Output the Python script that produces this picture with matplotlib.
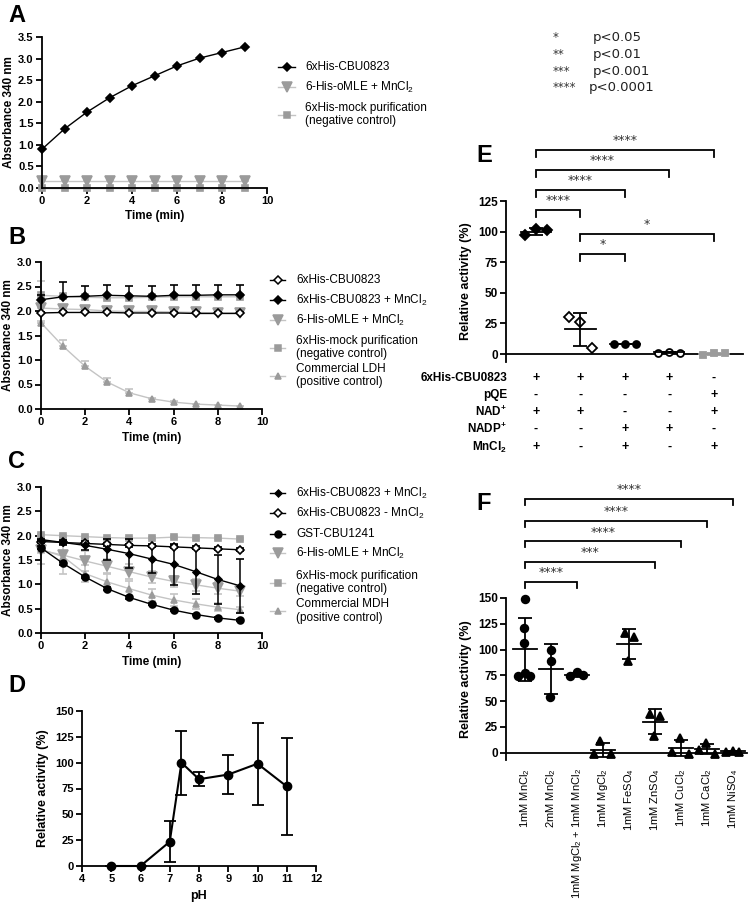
import matplotlib
matplotlib.use('Agg')
import matplotlib.pyplot as plt
import numpy as np
from matplotlib.lines import Line2D
import matplotlib.transforms as mtransforms

plt.rcParams['font.family'] = ['Liberation Sans', 'DejaVu Sans']
plt.rcParams['mathtext.fontset'] = 'custom'
plt.rcParams['mathtext.rm'] = 'Liberation Sans'
plt.rcParams['mathtext.it'] = 'Liberation Sans:italic'
plt.rcParams['mathtext.bf'] = 'Liberation Sans:bold'

# ---------------- data ----------------
time = [0, 1, 2, 3, 4, 5, 6, 7, 8, 9]

A_cbu = [0.90, 1.37, 1.76, 2.09, 2.37, 2.60, 2.83, 3.01, 3.14, 3.27]
A_omle = [0.17, 0.17, 0.17, 0.17, 0.17, 0.17, 0.17, 0.17, 0.17, 0.17]
A_mock = [0.01, 0.01, 0.01, 0.01, 0.01, 0.01, 0.01, 0.01, 0.01, 0.01]

B_cbu = [1.96, 1.97, 1.97, 1.97, 1.96, 1.96, 1.96, 1.95, 1.95, 1.95]
B_cbu_err = [0.02, 0.02, 0.02, 0.02, 0.02, 0.02, 0.02, 0.02, 0.02, 0.02]
B_mn = [2.23, 2.29, 2.30, 2.32, 2.31, 2.30, 2.32, 2.32, 2.33, 2.33]
B_mn_err = [0.10, 0.30, 0.22, 0.22, 0.21, 0.21, 0.21, 0.21, 0.21, 0.21]
B_omle = [2.06, 2.04, 2.03, 2.00, 1.99, 1.99, 1.98, 1.97, 1.96, 1.96]
B_omle_err = [0.03, 0.03, 0.03, 0.03, 0.03, 0.03, 0.03, 0.03, 0.03, 0.03]
B_mock = [2.32, 2.30, 2.28, 2.27, 2.27, 2.28, 2.29, 2.29, 2.29, 2.29]
B_mock_err = [0.30, 0.05, 0.05, 0.05, 0.05, 0.05, 0.05, 0.05, 0.05, 0.05]
B_ldh = [1.76, 1.28, 0.87, 0.55, 0.33, 0.21, 0.14, 0.10, 0.08, 0.06]
B_ldh_err = [0.03, 0.12, 0.11, 0.09, 0.07, 0.02, 0.02, 0.01, 0.01, 0.01]

C_mn = [1.92, 1.86, 1.80, 1.72, 1.63, 1.52, 1.41, 1.26, 1.10, 0.97]
C_mn_err = [0.02, 0.05, 0.10, 0.22, 0.30, 0.28, 0.42, 0.46, 0.50, 0.55]
C_nomn = [1.88, 1.86, 1.84, 1.82, 1.80, 1.79, 1.77, 1.75, 1.73, 1.71]
C_nomn_err = [0.03, 0.03, 0.03, 0.03, 0.03, 0.03, 0.03, 0.03, 0.03, 0.03]
C_gst = [1.75, 1.43, 1.15, 0.91, 0.73, 0.59, 0.47, 0.38, 0.31, 0.26]
C_gst_err = [0.03, 0.03, 0.03, 0.03, 0.03, 0.02, 0.02, 0.02, 0.02, 0.02]
C_omle = [1.70, 1.60, 1.48, 1.37, 1.26, 1.15, 1.06, 0.99, 0.92, 0.86]
C_omle_err = [0.05, 0.38, 0.20, 0.15, 0.15, 0.12, 0.12, 0.12, 0.12, 0.10]
C_mock = [2.02, 2.00, 1.98, 1.96, 1.95, 1.95, 1.97, 1.96, 1.95, 1.93]
C_mock_err = [0.02, 0.02, 0.02, 0.02, 0.02, 0.02, 0.02, 0.02, 0.02, 0.02]
C_mdh = [1.72, 1.57, 1.22, 1.05, 0.91, 0.78, 0.68, 0.60, 0.53, 0.48]
C_mdh_err = [0.30, 0.10, 0.18, 0.18, 0.16, 0.13, 0.12, 0.10, 0.08, 0.06]

D_ph = [5, 6, 7, 7.4, 8, 9, 10, 11]
D_act = [0, 0, 23.5, 100, 84, 88.5, 99, 77]
D_err = [0, 0, 20, 31, 6.5, 19, 39.5, 47]

E_rows = ['6xHis-CBU0823', 'pQE', r'NAD$^{\mathbf{+}}$', r'NADP$^{\mathbf{+}}$', r'MnCl$_\mathbf{2}$']
E_signs = [['+', '+', '+', '+', '-'],
           ['-', '-', '-', '-', '+'],
           ['+', '+', '-', '-', '+'],
           ['-', '-', '+', '+', '-'],
           ['+', '-', '+', '-', '+']]
E_vals = [[97, 102, 101], [30, 26, 5], [8.5, 8.5, 8.5], [1, 2, 1], [-1, 1, 0.5]]
E_cmp = [(0, 4, '****'), (0, 3, '****'), (0, 2, '****'), (0, 1, '****'), (1, 4, '*'), (1, 2, '*')]

F_cats = [r'1mM MnCl$_2$', r'2mM MnCl$_2$', r'1mM MgCl$_2$ + 1mM MnCl$_2$', r'1mM MgCl$_2$',
          r'1mM FeSO$_4$', r'1mM ZnSO$_4$', r'1mM CuCl$_2$', r'1mM CaCl$_2$', r'1mM NiSO$_4$']
F_vals = [[149, 121, 106, 74, 77, 74], [100, 89, 54], [74, 78, 75], [11, -1, -1],
          [116, 112, 89], [38, 36, 16], [14, 1, -1], [9, 3, -1], [1, 2, 1]]
F_cmp = [(0, 8, '****'), (0, 7, '****'), (0, 6, '****'), (0, 5, '***'), (0, 2, '****')]

# ---------------- style ----------------
W, H = 750, 908
BLACK = '#000000'
GRAYM = '#9b9b9b'
GRAYL = '#c4c4c4'

fig = plt.figure(figsize=(7.5, 9.08), dpi=100)


def ax_px(left, top, right, bottom):
    return fig.add_axes([left / W, 1 - bottom / H, (right - left) / W, (bottom - top) / H])


def prism(ax, fs=8, lw=1.3, ticklen=4):
    for s in ['top', 'right']:
        ax.spines[s].set_visible(False)
    for s in ['left', 'bottom']:
        ax.spines[s].set_linewidth(lw)
    ax.tick_params(width=lw, length=ticklen, labelsize=fs, pad=2)
    ax.patch.set_alpha(0)


def bold_ticks(ax):
    for t in ax.get_xticklabels() + ax.get_yticklabels():
        t.set_fontweight('bold')


def series(ax, y, err, marker, mfc, mec, ms, lc, ecol, upper=False, z=2):
    e = np.asarray(err)
    yerr = [np.zeros_like(e), e] if upper else e
    ax.errorbar(time, y, yerr=yerr, fmt='-', marker=marker, color=lc, mfc=mfc, mec=mec,
                ms=ms, mew=1.2, ecolor=ecol, elinewidth=1.1, capsize=3, capthick=1.1,
                lw=1, clip_on=False, zorder=z)


def time_axes(ax, ymax, ylab_pad=2):
    prism(ax)
    ax.set_xlim(0, 10)
    ax.set_ylim(0, ymax)
    ax.set_xticks(np.arange(0, 11, 2))
    yt = np.arange(0, ymax + 0.01, 0.5)
    ax.set_yticks(yt, [f'{v:.1f}' for v in yt])
    bold_ticks(ax)
    ax.set_xlabel('Time (min)', fontsize=8.5, fontweight='bold', labelpad=3)
    ax.set_ylabel('Absorbance 340 nm', fontsize=8.5, fontweight='bold', labelpad=ylab_pad)


def legend_entry(y, marker, mfc, mec, ms, lc, text, x0=278, x1=295, tx=305):
    l = Line2D([x0 / W, (x0 + x1) / 2 / W, x1 / W], [1 - y / H] * 3, transform=fig.transFigure,
               color=lc, lw=1, marker=marker, markevery=[1], mfc=mfc, mec=mec, ms=ms, mew=1.1)
    fig.add_artist(l)
    fig.text(tx / W, 1 - y / H, text, fontsize=8.5, va='center', ha='left', linespacing=1.15)


def letter(x, y, s):
    fig.text(x / W, 1 - y / H, s, fontsize=17, fontweight='bold', va='center', ha='left')


# ---------------- Panel A ----------------
axA = ax_px(42, 37, 267, 188)
series(axA, A_mock, [0] * 10, 's', GRAYM, GRAYM, 5, GRAYM, GRAYM)
series(axA, A_omle, [0] * 10, 'v', GRAYM, GRAYM, 7, GRAYL, GRAYL)
series(axA, A_cbu, [0] * 10, 'D', BLACK, BLACK, 4, BLACK, BLACK, z=3)
time_axes(axA, 3.5)
letter(8, 15, 'A')
legend_entry(67, 'D', BLACK, BLACK, 4, BLACK, '6xHis-CBU0823')
legend_entry(87, 'v', GRAYM, GRAYM, 7, GRAYL, r'6-His-oMLE + MnCl$_2$')
legend_entry(114.5, 's', GRAYM, GRAYM, 5, GRAYL, '6xHis-mock purification\n(negative control)')

# ---------------- Panel B ----------------
axB = ax_px(41, 262, 262, 409)
series(axB, B_ldh, B_ldh_err, '^', GRAYM, GRAYM, 5, GRAYL, GRAYL, upper=True)
series(axB, B_mock, B_mock_err, 's', GRAYM, GRAYM, 5, GRAYL, GRAYL, upper=True)
series(axB, B_omle, B_omle_err, 'v', GRAYM, GRAYM, 7, GRAYL, GRAYL, upper=True)
series(axB, B_mn, B_mn_err, 'D', BLACK, BLACK, 4, BLACK, BLACK, upper=True, z=3)
series(axB, B_cbu, B_cbu_err, 'D', 'white', BLACK, 4.5, BLACK, BLACK, upper=True, z=3)
time_axes(axB, 3.0)
letter(8, 237, 'B')
bx = dict(x0=270, x1=285, tx=296)
legend_entry(280, 'D', 'white', BLACK, 4.5, BLACK, '6xHis-CBU0823', **bx)
legend_entry(300, 'D', BLACK, BLACK, 4, BLACK, r'6xHis-CBU0823 + MnCl$_2$', **bx)
legend_entry(320, 'v', GRAYM, GRAYM, 7, GRAYL, r'6-His-oMLE + MnCl$_2$', **bx)
legend_entry(347.5, 's', GRAYM, GRAYM, 5, GRAYL, '6xHis-mock purification\n(negative control)', **bx)
legend_entry(375.5, '^', GRAYM, GRAYM, 5, GRAYL, 'Commercial LDH\n(positive control)', **bx)

# ---------------- Panel C ----------------
axC = ax_px(41, 487, 262, 633)
series(axC, C_mdh, C_mdh_err, '^', GRAYM, GRAYM, 5, GRAYL, GRAYL)
series(axC, C_mock, C_mock_err, 's', GRAYM, GRAYM, 5, GRAYL, GRAYL)
series(axC, C_omle, C_omle_err, 'v', GRAYM, GRAYM, 7, GRAYL, GRAYL)
series(axC, C_gst, C_gst_err, 'o', BLACK, BLACK, 5, BLACK, BLACK, z=3)
series(axC, C_nomn, C_nomn_err, 'D', 'white', BLACK, 4.5, BLACK, BLACK, z=3)
series(axC, C_mn, C_mn_err, 'D', BLACK, BLACK, 3.5, BLACK, BLACK, z=3)
time_axes(axC, 3.0)
letter(8, 462, 'C')
legend_entry(493, 'D', BLACK, BLACK, 3.5, BLACK, r'6xHis-CBU0823 + MnCl$_2$', **bx)
legend_entry(513, 'D', 'white', BLACK, 4.5, BLACK, r'6xHis-CBU0823 - MnCl$_2$', **bx)
legend_entry(534, 'o', BLACK, BLACK, 5, BLACK, 'GST-CBU1241', **bx)
legend_entry(553, 'v', GRAYM, GRAYM, 7, GRAYL, r'6-His-oMLE + MnCl$_2$', **bx)
legend_entry(582.5, 's', GRAYM, GRAYM, 5, GRAYL, '6xHis-mock purification\n(negative control)', **bx)
legend_entry(611, '^', GRAYM, GRAYM, 5, GRAYL, 'Commercial MDH\n(positive control)', **bx)

# ---------------- Panel D ----------------
axD = ax_px(82, 711, 316, 866)
axD.errorbar(D_ph, D_act, yerr=D_err, fmt='-o', color=BLACK, ms=6, lw=1.5, elinewidth=1.3,
             capsize=4, capthick=1.3, clip_on=False, zorder=3)
prism(axD)
axD.set_xlim(4, 12)
axD.set_ylim(0, 150)
axD.set_xticks(np.arange(4, 13, 1))
axD.set_yticks(np.arange(0, 151, 25))
bold_ticks(axD)
axD.set_xlabel('pH', fontsize=9, fontweight='bold', labelpad=4)
axD.set_ylabel('Relative activity (%)', fontsize=9, fontweight='bold', labelpad=4)
letter(8, 685, 'D')

# ---------------- p-value key ----------------
pk = [('*', 'p<0.05'), ('**', 'p<0.01'), ('***', 'p<0.001'), ('****', 'p<0.0001')]
for i, (s, p) in enumerate(pk):
    yy = 38 + i * 16.5
    fig.text(553 / W, 1 - yy / H, s, fontsize=8.5, family='DejaVu Sans', va='center', color='#333333')
    fig.text(593 / W - (0.005 if len(s) == 4 else 0), 1 - yy / H, p, fontsize=9.5, family='DejaVu Sans',
             va='center', color='#222222')


def brackets(ax, cmp, levels, drop, fs=9, off=2.0):
    for (a, b, lab), lv in zip(cmp, levels):
        ax.plot([a, a, b, b], [lv - drop, lv, lv, lv - drop], color=BLACK, lw=1.3, clip_on=False,
                solid_joinstyle='miter')
        ax.text((a + b) / 2, lv + off, lab, ha='center', va='bottom', fontsize=fs,
                family='DejaVu Sans', color='#333333')


def dotplot(ax, vals, markers, colors, offsets, halfw, cap, ms, mfcs):
    for i, v in enumerate(vals):
        v = np.asarray(v, dtype=float)
        m = v.mean()
        sd = v.std(ddof=1)
        xs = [i + o for o in offsets[i]]
        ax.plot(xs, v, linestyle='none', marker=markers[i], ms=ms, mfc=mfcs[i], mec=colors[i],
                mew=1.3, clip_on=False, zorder=3)
        ax.plot([i - halfw, i + halfw], [m, m], color=colors[i], lw=1.3, zorder=4, clip_on=False)
        ax.errorbar(i, m, yerr=sd, fmt='none', ecolor=colors[i], elinewidth=1.3, capsize=cap,
                    capthick=1.3, zorder=4, clip_on=False)


# ---------------- Panel E ----------------
axE = ax_px(506, 201, 743, 362)
prism(axE, fs=8.5)
axE.set_xlim(-0.675, 4.66)
axE.set_ylim(-6.5, 125)
axE.spines['bottom'].set_position(('data', 0))
axE.set_xticks([])
axE.set_yticks(np.arange(0, 126, 25))
bold_ticks(axE)
axE.set_ylabel('Relative activity (%)', fontsize=9, fontweight='bold', labelpad=4)
E_off = [[-0.25, 0, 0.25]] * 5
dotplot(axE, E_vals, ['D', 'D', 'o', 'o', 's'], [BLACK, BLACK, BLACK, BLACK, GRAYM],
        E_off, 0.34, 5, 5, [BLACK, 'white', BLACK, 'white', GRAYM])
brackets(axE, E_cmp, [166.7, 150.3, 134, 117.6, 98, 81.7], 5.7, off=2.5)
trE = mtransforms.blended_transform_factory(axE.transData, fig.transFigure)
row_y = [378, 395, 412, 429, 447]
for r, (lab, signs) in enumerate(zip(E_rows, E_signs)):
    yy = 1 - row_y[r] / H
    fig.text(507 / W, yy, lab, ha='right', va='center', fontsize=8.5, fontweight='bold')
    for c, s in enumerate(signs):
        axE.text(c, yy, s, transform=trE, ha='center', va='center', fontsize=9, fontweight='bold')
letter(476, 155, 'E')

# ---------------- Panel F ----------------
axF = ax_px(506, 598, 747, 760)
prism(axF, fs=8.5)
axF.set_xlim(-0.73, 8.54)
axF.set_ylim(-7, 150)
axF.spines['bottom'].set_position(('data', 0))
axF.set_yticks(np.arange(0, 151, 25))
axF.set_xticks(np.arange(len(F_cats)), F_cats, rotation=90, fontsize=8)
axF.tick_params(axis='x', length=0, pad=11)
for t in axF.get_yticklabels():
    t.set_fontweight('bold')
axF.set_ylabel('Relative activity (%)', fontsize=9, fontweight='bold', labelpad=4)
F_off = [[0, -0.05, -0.03, -0.28, 0, 0.18], [0, 0, -0.04], [-0.25, 0, 0.25], [-0.1, -0.35, 0.3],
         [-0.15, 0.2, -0.05], [-0.2, 0.2, -0.05], [-0.05, -0.35, 0.3], [-0.05, -0.3, 0.3],
         [-0.25, 0, 0.25]]
F_mk = ['o', 'o', 'o', '^', '^', '^', '^', '^', '^']
dotplot(axF, F_vals, F_mk, [BLACK] * 9, F_off, 0.45, 4.8, 5.5, [BLACK] * 9)
brackets(axF, F_cmp, [246, 224.6, 205, 185, 165.5], 6, off=2.5)
letter(476, 503, 'F')

fig.savefig('out.png', dpi=100)
